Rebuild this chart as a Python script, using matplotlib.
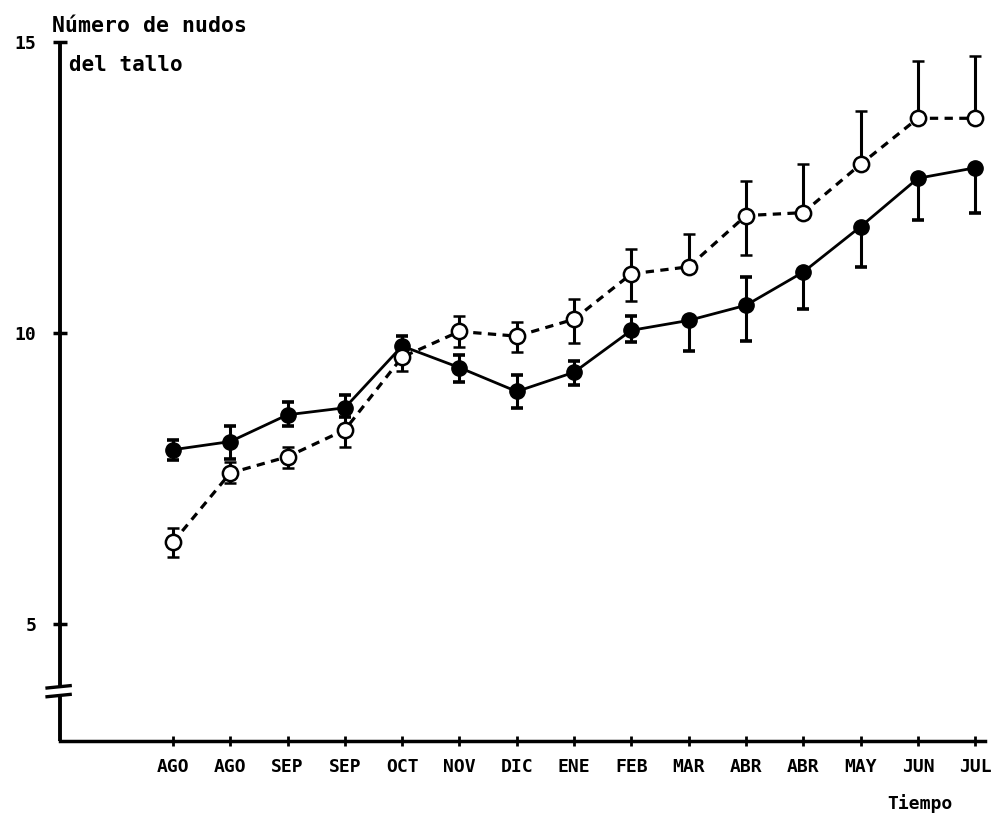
import matplotlib
matplotlib.use("Agg")
import matplotlib.pyplot as plt
import numpy as np

months = ["AGO", "AGO", "SEP", "SEP", "OCT", "NOV", "DIC", "ENE", "FEB", "MAR", "ABR", "ABR", "MAY", "JUN", "JUL"]

filled = [8.0, 8.14, 8.6, 8.72, 9.78, 9.41, 9.0, 9.33, 10.05, 10.22, 10.48, 11.05, 11.83, 12.66, 12.84]
filled_lo = [0.17, 0.3, 0.2, 0.15, 0.17, 0.24, 0.28, 0.22, 0.2, 0.52, 0.62, 0.64, 0.69, 0.72, 0.78]
filled_hi = [0.17, 0.26, 0.22, 0.22, 0.17, 0.22, 0.28, 0.19, 0.24, 0.0, 0.48, 0.0, 0.0, 0.0, 0.0]

opened = [6.41, 7.6, 7.88, 8.34, 9.59, 10.03, 9.95, 10.24, 11.02, 11.14, 12.02, 12.07, 12.9, 13.69, 13.69]
opened_lo = [0.25, 0.17, 0.19, 0.3, 0.24, 0.26, 0.28, 0.4, 0.47, 0.0, 0.67, 0.0, 0.0, 0.0, 0.0]
opened_hi = [0.25, 0.19, 0.17, 0.3, 0.1, 0.26, 0.24, 0.35, 0.43, 0.57, 0.59, 0.84, 0.91, 0.98, 1.07]

yticks = [5, 10, 15]

plt.rcParams['font.family'] = ['DejaVu Sans Mono', 'DejaVu Sans']
fig = plt.figure(figsize=(9.95, 8.15), dpi=100)
ax = fig.add_axes([0.0603, 0.0908, 0.9296, 0.8577])

x = np.arange(len(months))

ax.errorbar(x, filled, yerr=[filled_lo, filled_hi], fmt='-o', color='black',
            lw=2.0, elinewidth=2.2, capsize=4.3, capthick=2.6,
            markersize=11, markerfacecolor='black', markeredgecolor='black', zorder=3)
ax.errorbar(x, opened, yerr=[opened_lo, opened_hi], fmt='o', color='black',
            elinewidth=2.2, capsize=4.3, capthick=2.6, markersize=11,
            markerfacecolor='white', markeredgecolor='black', markeredgewidth=1.8, zorder=4)
ax.plot(x, opened, color='black', lw=2.3, ls=(0, (2.6, 2.0)), zorder=2)

ax.set_xlim(-1.97, 14.17)
ax.set_ylim(3, 15)

for s in ['top', 'right', 'left']:
    ax.spines[s].set_visible(False)
ax.spines['bottom'].set_linewidth(2.5)

ytr = ax.get_yaxis_transform()
ax.plot([0, 0], [3, 3.78], color='black', lw=2.8, transform=ytr, clip_on=False, solid_capstyle='butt')
ax.plot([0, 0], [3.93, 15], color='black', lw=2.8, transform=ytr, clip_on=False, solid_capstyle='butt')
ax.plot([-0.014, 0.011], [3.91, 3.95], color='black', lw=2.4, transform=ytr, clip_on=False)
ax.plot([-0.014, 0.011], [3.76, 3.80], color='black', lw=2.4, transform=ytr, clip_on=False)

ax.set_xticks(x)
ax.set_xticklabels(months)
ax.set_yticks(yticks)
ax.set_yticklabels([str(v) for v in yticks])
ax.tick_params(axis='x', direction='inout', length=7, width=2, pad=9, labelsize=13)
ax.tick_params(axis='y', direction='inout', length=10, width=2.5, pad=12, labelsize=13)
for lab in ax.get_xticklabels() + ax.get_yticklabels():
    lab.set_fontweight('bold')

ax.text(-0.009, 1.0225, "Número de nudos", transform=ax.transAxes, fontsize=15.5,
        fontweight='bold', ha='left', va='center')
ax.text(0.010, 0.9665, "del tallo", transform=ax.transAxes, fontsize=15,
        fontweight='bold', ha='left', va='center')
ax.text(0.9297, -0.090, "Tiempo", transform=ax.transAxes, fontsize=13,
        fontweight='bold', ha='center', va='center')

fig.savefig("out.png", dpi=100)
